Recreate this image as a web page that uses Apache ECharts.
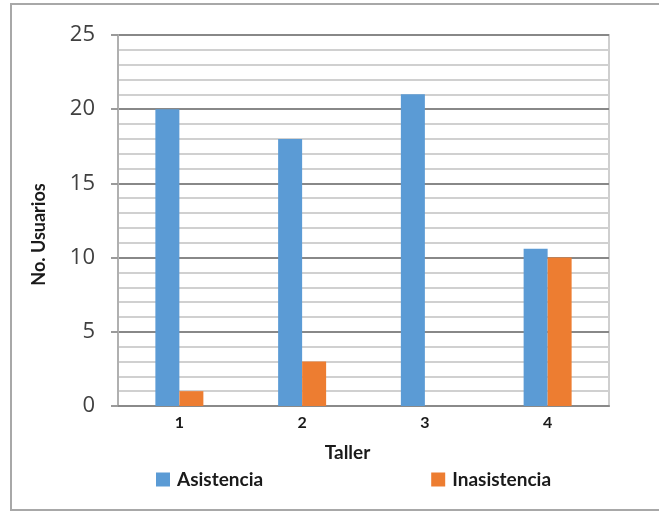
<!DOCTYPE html>
<html>
<head>
<meta charset="utf-8">
<script src="https://cdn.jsdelivr.net/npm/echarts@6/dist/echarts.min.js"></script>
<style>
  html, body { margin: 0; padding: 0; background: #ffffff; }
  #chart { width: 659px; height: 512px; }
</style>
</head>
<body>
<div id="chart"></div>
<script>
// Workshop attendance per session
const talleres = ['1', '2', '3', '4'];
const asistencia = [20, 18, 21, 10.6];
const inasistencia = [1, 3, 0, 10];
const yTicks = [0, 5, 10, 15, 20, 25];

const chart = echarts.init(document.getElementById('chart'), null, { renderer: 'canvas' });

const labelFont = '"Open Sans", "DejaVu Sans", sans-serif';
const titleFont = 'Lato, "Open Sans", sans-serif';

chart.setOption({
  animation: false,
  backgroundColor: '#ffffff',
  graphic: [{
    type: 'rect',
    shape: { x: 11, y: 4, width: 660, height: 506 },
    style: { fill: 'none', stroke: '#a8a8a8', lineWidth: 2 },
    silent: true,
    z: -1
  }],
  grid: {
    left: 118, right: 50, top: 35, bottom: 106,
    show: true, borderColor: '#cfcfcf', borderWidth: 2, backgroundColor: 'transparent'
  },
  legend: {
    left: 151, top: 465,
    itemWidth: 14, itemHeight: 14, itemGap: 168,
    icon: 'rect',
    textStyle: { fontFamily: titleFont, fontWeight: 'bold', fontSize: 19, color: '#1a1a1a', padding: [0, 0, 0, 2] },
    data: ['Asistencia', 'Inasistencia']
  },
  xAxis: {
    type: 'category',
    data: talleres,
    name: 'Taller',
    nameLocation: 'middle',
    nameGap: 37,
    nameTextStyle: { fontFamily: titleFont, fontWeight: 'bold', fontSize: 19, color: '#1a1a1a', padding: [0, 32, 0, 0] },
    axisLine: { show: true, lineStyle: { color: '#8a8a8a', width: 2 } },
    axisTick: { show: false },
    axisLabel: { fontFamily: titleFont, fontWeight: 'bold', fontSize: 16, color: '#1a1a1a', margin: 9 },
    splitLine: { show: false }
  },
  yAxis: {
    type: 'value',
    min: yTicks[0],
    max: yTicks[yTicks.length - 1],
    interval: 5,
    name: 'No. Usuarios',
    nameLocation: 'middle',
    nameGap: 70,
    nameRotate: 90,
    nameTextStyle: { fontFamily: titleFont, fontWeight: 'bold', fontSize: 18, color: '#1a1a1a', padding: [0, 28, 0, 0] },
    axisLine: { show: true, lineStyle: { color: '#b0b0b0', width: 2 } },
    axisTick: { show: true, length: 7, lineStyle: { color: '#9a9a9a', width: 2 } },
    axisLabel: { fontFamily: labelFont, fontSize: 22, color: '#404040', margin: 23 },
    splitLine: { show: true, lineStyle: { color: '#888888', width: 2 } },
    minorTick: { show: false, splitNumber: 5 },
    minorSplitLine: { show: true, lineStyle: { color: '#d0d0d0', width: 2 } }
  },
  series: [
    {
      name: 'Asistencia',
      type: 'bar',
      data: asistencia,
      barWidth: 24,
      barGap: '0%',
      itemStyle: { color: '#5b9bd5' }
    },
    {
      name: 'Inasistencia',
      type: 'bar',
      data: inasistencia,
      barWidth: 24,
      barGap: '0%',
      itemStyle: { color: '#ed7d31' }
    }
  ]
});
</script>
</body>
</html>
